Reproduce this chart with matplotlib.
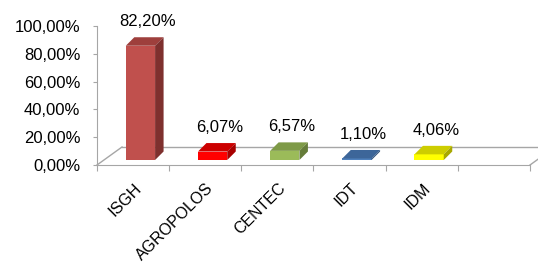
import numpy as np
import matplotlib
matplotlib.use('Agg')
import matplotlib.pyplot as plt
from matplotlib.patches import Polygon

plt.rcParams['font.family'] = ['Liberation Sans', 'DejaVu Sans']

categories = ['ISGH', 'AGROPOLOS', 'CENTEC', 'IDT', 'IDM']
values = [82.20, 6.07, 6.57, 1.10, 4.06]
labels = ['82,20%', '6,07%', '6,57%', '1,10%', '4,06%']
yticks = [0, 20, 40, 60, 80, 100]
ytick_labels = ['0,00%', '20,00%', '40,00%', '60,00%', '80,00%', '100,00%']

# (front, top, side) colours for each bar
face_colors = [
    ('#C0504D', '#9E3F3C', '#7E302E'),
    ('#FF0000', '#CC0000', '#A80000'),
    ('#9BBB59', '#7E9A47', '#657C39'),
    ('#4F81BD', '#3D6699', '#32547E'),
    ('#FFFF00', '#CDCD00', '#A8A800'),
]

W, H = 538, 265
fig = plt.figure(figsize=(W / 100, H / 100), dpi=100)
ax = fig.add_axes([97 / W, (H - 165) / H, 433 / W, 139 / H])
ax.set_xlim(-0.5, 5.5)
ax.set_ylim(0, 100)

# pixel -> data unit helpers
px_x = 6 / 433      # category units per pixel
px_y = 100 / 139    # percent per pixel

grey = '#A6A6A6'

# floor of the 3d chart
fdx, fdy = 25 * px_x, 18 * px_y
ax.plot([-0.5, -0.5 + fdx], [0, fdy], color=grey, lw=1, zorder=1, clip_on=False)
ax.plot([-0.5 + fdx, 5.5 + fdx], [fdy, fdy], color=grey, lw=1, zorder=1, clip_on=False)
ax.plot([5.5, 5.5 + fdx], [0, fdy], color=grey, lw=1, zorder=1, clip_on=False)

# bars drawn as three faces
bx0 = -7.3 * px_x
bw = 29.3 * px_x
base = 5 * px_y
ddx, ddy = 8.5 * px_x, 8.5 * px_y
for i, v in enumerate(values):
    front, top, side = face_colors[i]
    x0 = i + bx0
    x1 = x0 + bw
    y0 = base
    y1 = base + v
    ax.add_patch(Polygon([(x0, y0), (x1, y0), (x1, y1), (x0, y1)],
                         closed=True, fc=front, ec='none', zorder=3, clip_on=False))
    ax.add_patch(Polygon([(x0, y1), (x1, y1), (x1 + ddx, y1 + ddy), (x0 + ddx, y1 + ddy)],
                         closed=True, fc=top, ec='none', zorder=3, clip_on=False))
    ax.add_patch(Polygon([(x1, y0), (x1 + ddx, y0 + ddy), (x1 + ddx, y1 + ddy), (x1, y1)],
                         closed=True, fc=side, ec='none', zorder=3, clip_on=False))
    ax.annotate(labels[i], xy=(i + 14 * px_x, y1 + ddy), xytext=(0, 6),
                textcoords='offset points', ha='center', va='bottom',
                fontsize=12, zorder=4, annotation_clip=False)

# axes styling
for s in ['top', 'right']:
    ax.spines[s].set_visible(False)
ax.spines['left'].set_color(grey)
ax.spines['bottom'].set_color(grey)
ax.set_yticks(yticks)
ax.set_yticklabels(ytick_labels, fontsize=12)
ax.tick_params(axis='y', length=3, color=grey, pad=9)
ax.set_xticks(np.arange(-0.5, 6.0, 1.0))
ax.set_xticklabels([])
ax.tick_params(axis='x', length=4, color=grey)

for i, c in enumerate(categories):
    ax.annotate(c, xy=(i, 0), xycoords='data', xytext=(0.5, -11),
                textcoords='offset points', ha='right', va='top',
                rotation=45, rotation_mode='anchor', fontsize=11.5,
                annotation_clip=False)

ax.patch.set_alpha(0)
fig.savefig('out.png', dpi=100)
